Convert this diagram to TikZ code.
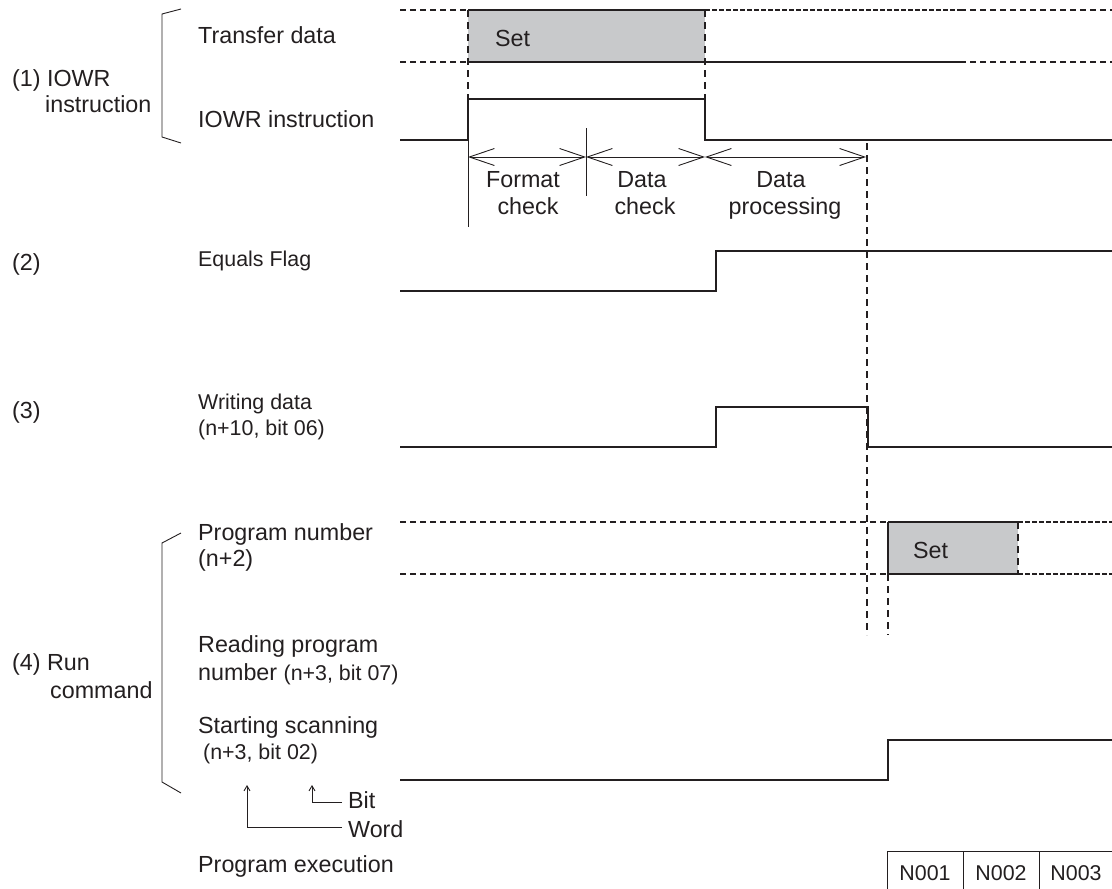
\documentclass[tikz,border=0pt]{standalone}
\usepackage{fontspec}
\setmainfont{Liberation Sans}
\usetikzlibrary{arrows.meta}
\definecolor{ink}{HTML}{231F20}
\definecolor{setgray}{HTML}{C8C9CB}
\begin{document}
\begin{tikzpicture}[x=1pt,y=-1pt,
  sig/.style={line width=1.4pt, draw=ink},
  dsh/.style={line width=1.2pt, draw=ink, dash pattern=on 6pt off 4pt},
  ddsh/.style={line width=1.2pt, draw=ink, dash pattern=on 5pt off 2pt},
  vdsh/.style={line width=1.2pt, draw=ink, dash pattern=on 7pt off 5pt},
  thinline/.style={line width=0.9pt, draw=ink},
  lbl/.style={anchor=base west, inner sep=0pt, text=ink, font=\fontsize{23.3}{28}\selectfont},
  slbl/.style={anchor=base west, inner sep=0pt, text=ink, font=\fontsize{21.4}{26}\selectfont},
  clbl/.style={anchor=base, inner sep=0pt, text=ink, font=\fontsize{23.3}{28}\selectfont},
  sclbl/.style={anchor=base, inner sep=0pt, text=ink, font=\fontsize{21.4}{26}\selectfont},
  dimarrow/.style={thinline, {Straight Barb[length=25pt,width=17pt]}-{Straight Barb[length=25pt,width=17pt]}},
  ptr/.style={thinline, -{Straight Barb[length=5pt,width=6pt]}}
]
\useasboundingbox (0,0) rectangle (1112,889);

% ---------- (1) IOWR instruction ----------
\draw[thinline] (181,9) -- (162,14) -- (162,137) -- (181,143);
\node[lbl] (g1a) at (12,86) {(1) IOWR};
\node[lbl] (g1b) at (45,112) {instruction};
\node[lbl] (ltd) at (198,43) {Transfer data};
\node[lbl] (liowr) at (198,127) {IOWR instruction};

% transfer data
\fill[setgray] (468,10) rectangle (705,62);
\draw[sig] (468,10) -- (705,10);
\draw[ddsh] (705,10) -- (960,10);
\draw[sig] (468,62) -- (960,62);
\draw[dsh] (400,10) -- (468,10);
\draw[dsh] (400,62) -- (468,62);
\draw[dsh] (960,10) -- (1112,10);
\draw[dsh] (960,62) -- (1112,62);
\draw[vdsh] (468,10) -- (468,99);
\draw[vdsh] (705,10) -- (705,99);
\node[lbl] (set1) at (495,46) {Set};

% IOWR instruction signal
\draw[sig] (400,140) -- (468,140) -- (468,99) -- (705,99) -- (705,140) -- (1112,140);

% dimension arrows
\coordinate (f0) at (468,157);
\coordinate (f1) at (586,157);
\coordinate (f2) at (705,157);
\coordinate (f3) at (866,157);
\draw[thinline] (468,140) -- (468,227);
\draw[thinline] (586,128) -- (586,196);
\draw[dimarrow] (f0) -- (f1);
\draw[dimarrow] (f1) -- (f2);
\draw[dimarrow] (f2) -- (f3);
\node[clbl] (fc1) at (523,187) {Format};
\node[clbl] (fc2) at (528,214) {check};
\node[clbl] (dc1) at (642,187) {Data};
\node[clbl] (dc2) at (645,214) {check};
\node[clbl] (dp1) at (781,187) {Data};
\node[clbl] (dp2) at (785,214) {processing};

% long dashed vertical
\draw[vdsh] (867,143) -- (867,635);

% ---------- (2) Equals Flag ----------
\node[lbl] (g2) at (12,270) {(2)};
\node[slbl] (leq) at (198,266) {Equals Flag};
\draw[sig] (400,291) -- (716,291) -- (716,251) -- (1112,251);

% ---------- (3) Writing data ----------
\node[lbl] (g3) at (12,418) {(3)};
\node[slbl] (lwd1) at (198,409) {Writing data};
\node[slbl] (lwd2) at (198,435) {(n+10, bit 06)};
\draw[sig] (400,447) -- (716,447) -- (716,407) -- (868,407) -- (868,447) -- (1112,447);

% ---------- (4) Run command ----------
\draw[thinline] (181,533) -- (162,543) -- (162,782) -- (181,793);
\node[lbl] (g4a) at (12,670) {(4) Run};
\node[lbl] (g4b) at (50,698) {command};
\node[lbl] (lpn1) at (198,540) {Program number};
\node[lbl] (lpn2) at (198,566) {(n+2)};
\node[lbl] (lrp1) at (198,652) {Reading program};
\node[lbl] (lrp2) at (198,680) {number {\fontsize{21.4}{26}\selectfont (n+3, bit 07)}};
\node[lbl] (lss1) at (198,733) {Starting scanning};
\node[slbl] (lss2) at (203,759) {(n+3, bit 02)};

% program number
\fill[setgray] (888,522) rectangle (1018,574);
\draw[dsh] (400,522) -- (888,522);
\draw[dsh] (400,574) -- (888,574);
\draw[sig] (888,522) -- (1018,522);
\draw[sig] (888,574) -- (1018,574);
\draw[sig] (888,522) -- (888,574);
\draw[ddsh] (1018,522) -- (1112,522);
\draw[ddsh] (1018,574) -- (1112,574);
\draw[vdsh] (1018,522) -- (1018,574);
\draw[vdsh] (888,574) -- (888,635);
\node[lbl] (set2) at (913,558) {Set};

% starting scanning
\draw[sig] (400,780) -- (888,780) -- (888,740) -- (1112,740);

% word / bit pointers
\node[lbl] (lbit) at (348,808) {Bit};
\node[lbl] (lword) at (348,837) {Word};
\draw[ptr] (lbit.base west |- 0,802) ++(-6,0) -| (312,785);
\draw[ptr] (lword.base west |- 0,827) ++(-6,0) -| (247,785);

% program execution
\node[lbl] (lpe) at (198,872) {Program execution};
\draw[thinline] (887,895) -- (887,851) -- (1112,851);
\draw[thinline] (963,851) -- (963,895);
\draw[thinline] (1039,851) -- (1039,895);
\node[sclbl] (n1) at (925,880) {N001};
\node[sclbl] (n2) at (1001,880) {N002};
\node[sclbl] (n3) at (1076,880) {N003};
\end{tikzpicture}
\end{document}
